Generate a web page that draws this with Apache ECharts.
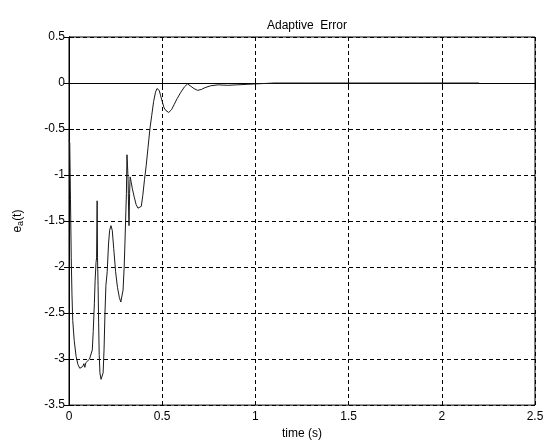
<!DOCTYPE html>
<html>
<head>
<meta charset="utf-8">
<script src="https://cdn.jsdelivr.net/npm/echarts@6/dist/echarts.min.js"></script>
<style>
  html, body { margin: 0; padding: 0; background: #fff; }
  #chart { width: 549px; height: 445px; }
</style>
</head>
<body>
<div id="chart"></div>
<script>
// Adaptive error e_a(t) over time
const timeS = [
  0, 0.004, 0.008, 0.012, 0.016, 0.02, 0.028, 0.038, 0.048, 0.058,
  0.066, 0.074, 0.08, 0.085, 0.09, 0.1, 0.11, 0.118, 0.125, 0.13,
  0.136, 0.14, 0.145, 0.148, 0.151, 0.153, 0.156, 0.159, 0.162, 0.166,
  0.172, 0.178, 0.183, 0.188, 0.193, 0.198, 0.205, 0.212, 0.218, 0.225,
  0.232, 0.24, 0.25, 0.26, 0.27, 0.278, 0.285, 0.29, 0.296, 0.3,
  0.305, 0.308, 0.311, 0.314, 0.317, 0.32, 0.322, 0.325, 0.328, 0.334,
  0.34, 0.35, 0.36, 0.37, 0.38, 0.388, 0.396, 0.405, 0.414, 0.424,
  0.434, 0.444, 0.454, 0.464, 0.472, 0.478, 0.484, 0.492, 0.5, 0.51,
  0.52, 0.535, 0.55, 0.565, 0.58, 0.6, 0.62, 0.636, 0.65, 0.67,
  0.69, 0.71, 0.73, 0.76, 0.8, 0.85, 0.9, 0.95, 1.0, 1.05,
  1.1, 1.3, 1.6, 1.9, 2.2
];
const errorA = [
  -0.62, -0.65, -1.27, -1.9, -2.3, -2.58, -2.8, -2.97, -3.06, -3.10,
  -3.11, -3.08, -3.05, -3.09, -3.04, -3.02, -3.00, -2.98, -2.9, -2.7,
  -2.4, -2.15, -1.95, -1.9, -1.28, -1.9, -2.2, -2.6, -2.95, -3.15,
  -3.22, -3.23, -3.15, -2.9, -2.5, -2.2, -2.05, -1.75, -1.6, -1.55,
  -1.6, -1.8, -2.05, -2.22, -2.33, -2.38, -2.36, -2.25, -2.0, -1.75,
  -1.4, -1.2, -0.78, -0.9, -1.05, -1.4, -1.55, -1.2, -1.02, -1.08,
  -1.15, -1.24, -1.32, -1.36, -1.37, -1.34, -1.22, -1.05, -0.9, -0.7,
  -0.5, -0.35, -0.2, -0.1, -0.06, -0.05, -0.08, -0.14, -0.2, -0.27,
  -0.3, -0.32, -0.29, -0.23, -0.17, -0.1, -0.04, -0.01, -0.03, -0.06,
  -0.08, -0.07, -0.05, -0.03, -0.02, -0.025, -0.02, -0.015, -0.01, -0.005,
  0, 0, 0, 0, 0
];
const xTicks = [0, 0.5, 1, 1.5, 2, 2.5];
const yTicks = [-3.5, -3, -2.5, -2, -1.5, -1, -0.5, 0, 0.5];

const FONT = 'Liberation Sans, Arial, sans-serif';
const grid = { left: 69, right: 14, top: 37, bottom: 37 };

const labelFmt = v => String(v);
const dashed = { show: true, lineStyle: { color: '#000', type: [4, 3], width: 1 } };
const boxTick = { show: true, inside: true, length: 5, lineStyle: { color: '#000' } };

const chart = echarts.init(document.getElementById('chart'), null, { renderer: 'canvas' });
chart.setOption({
  backgroundColor: '#fff',
  animation: false,
  title: {
    text: 'Adaptive  Error',
    left: 69 + (549 - 69 - 14) / 2,
    textAlign: 'center',
    top: 15,
    textStyle: { fontFamily: FONT, fontSize: 12, fontWeight: 'normal', color: '#000' }
  },
  grid: Object.assign({ show: true, borderColor: '#000', borderWidth: 1, backgroundColor: '#fff' }, grid),
  xAxis: [{
    type: 'value',
    min: xTicks[0], max: xTicks[xTicks.length - 1], interval: 0.5,
    axisLine: { show: true, lineStyle: { color: '#000' } },
    axisTick: boxTick,
    splitLine: dashed,
    axisLabel: { color: '#000', fontFamily: FONT, fontSize: 12, margin: 6, formatter: labelFmt },
    name: 'time (s)',
    nameLocation: 'middle',
    nameGap: 21,
    nameTextStyle: { color: '#000', fontFamily: FONT, fontSize: 12 }
  }, {
    type: 'value', position: 'top',
    min: xTicks[0], max: xTicks[xTicks.length - 1], interval: 0.5,
    axisLine: { show: true, lineStyle: { color: '#000' } },
    axisTick: boxTick,
    splitLine: { show: false }, axisLabel: { show: false }
  }],
  yAxis: [{
    type: 'value',
    min: yTicks[0], max: yTicks[yTicks.length - 1], interval: 0.5,
    axisLine: { show: true, lineStyle: { color: '#000' } },
    axisTick: boxTick,
    splitLine: dashed,
    axisLabel: { color: '#000', fontFamily: FONT, fontSize: 12, margin: 4, formatter: labelFmt },
    name: '{n|e}{s|a}{n|(t)}',
    nameLocation: 'middle',
    nameRotate: 90,
    nameGap: 44,
    nameTextStyle: {
      color: '#000', fontFamily: FONT, fontSize: 12,
      rich: {
        n: { fontFamily: FONT, fontSize: 12, color: '#000' },
        s: { fontFamily: FONT, fontSize: 9, color: '#000', padding: [6, 0, 0, 0] }
      }
    }
  }, {
    type: 'value', position: 'right',
    min: yTicks[0], max: yTicks[yTicks.length - 1], interval: 0.5,
    axisLine: { show: true, lineStyle: { color: '#000' } },
    axisTick: boxTick,
    splitLine: { show: false }, axisLabel: { show: false }
  }],
  series: [{
    type: 'line',
    xAxisIndex: 0, yAxisIndex: 0,
    data: timeS.map((t, i) => [t, errorA[i]]),
    showSymbol: false,
    symbol: 'none',
    lineStyle: { color: '#1a1a1a', width: 1 },
    z: 5
  }]
});
</script>
</body>
</html>
